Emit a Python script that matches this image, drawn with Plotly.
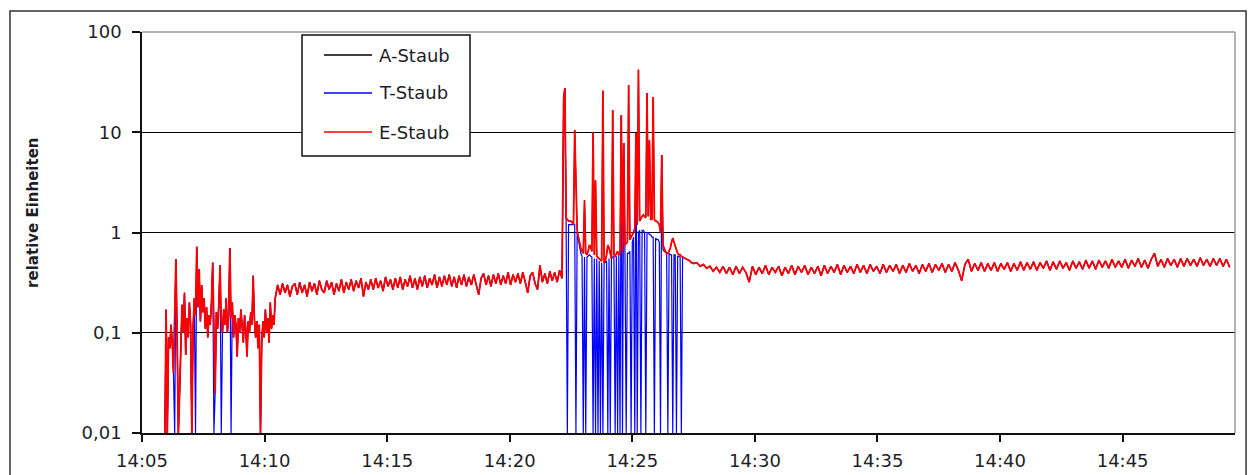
import pandas as pd
import plotly.graph_objects as go

DAY = "2000-01-01 "

# --- measured values (relative units) -------------------------------------
# start 14:05:56, one reading every 3 s
early_start, early_step = "14:05:56", 3
e_early = [0.01, 0.17, 0.01, 0.09, 0.07, 0.12, 0.08, 0.04, 0.15, 0.54,
           0.09, 0.01, 0.025, 0.08, 0.19, 0.1, 0.25, 0.06, 0.14, 0.09,
           0.2, 0.12, 0.01, 0.11, 0.22, 0.15, 0.72, 0.18, 0.43, 0.13,
           0.3, 0.16, 0.22, 0.11, 0.18, 0.09, 0.15, 0.12, 0.2, 0.5,
           0.1, 0.025, 0.16, 0.11, 0.19, 0.47, 0.13, 0.1, 0.17, 0.12,
           0.22, 0.1, 0.15, 0.7, 0.14, 0.2, 0.09, 0.15, 0.12, 0.058,
           0.14, 0.1, 0.17, 0.12, 0.08, 0.15, 0.11, 0.058, 0.13, 0.1,
           0.16, 0.12, 0.37, 0.14, 0.09, 0.13, 0.07, 0.12, 0.01, 0.08,
           0.13, 0.09, 0.17, 0.1, 0.14, 0.08, 0.2, 0.11, 0.15, 0.12]
t_early = [0.01, 0.17, 0.01, 0.09, 0.07, 0.12, 0.08, 0.04, 0.01, 0.54,
           0.09, 0.01, 0.025, 0.08, 0.19, 0.1, 0.25, 0.06, 0.14, 0.09,
           0.2, 0.12, 0.01, 0.11, 0.22, 0.01, 0.72, 0.18, 0.43, 0.13,
           0.3, 0.16, 0.22, 0.11, 0.18, 0.09, 0.15, 0.12, 0.2, 0.5,
           0.01, 0.025, 0.16, 0.11, 0.19, 0.47, 0.01, 0.1, 0.17, 0.12,
           0.22, 0.1, 0.15, 0.7, 0.01, 0.2, 0.09, 0.15, 0.12, 0.058,
           0.14, 0.1, 0.17, 0.12, 0.08, 0.15, 0.11, 0.058, 0.13, 0.1,
           0.16, 0.12, 0.37, 0.14, 0.09, 0.13, 0.07, 0.12, 0.01, 0.08,
           0.13, 0.09, 0.17, 0.1, 0.14, 0.08, 0.2, 0.11, 0.15, 0.12]

# start 14:10:26, one reading every 6 s
mid_start, mid_step = "14:10:26", 6
e_mid = [0.22, 0.3, 0.24, 0.31, 0.25, 0.3, 0.23, 0.29, 0.31, 0.24,
         0.32, 0.25, 0.3, 0.23, 0.32, 0.26, 0.31, 0.24, 0.33, 0.27,
         0.25, 0.33, 0.27, 0.32, 0.24, 0.31, 0.26, 0.34, 0.25, 0.32,
         0.27, 0.34, 0.26, 0.33, 0.28, 0.35, 0.23, 0.32, 0.27, 0.34,
         0.27, 0.35, 0.28, 0.33, 0.26, 0.36, 0.29, 0.34, 0.27, 0.35,
         0.28, 0.36, 0.27, 0.34, 0.29, 0.37, 0.28, 0.35, 0.27, 0.36,
         0.29, 0.37, 0.28, 0.35, 0.3, 0.38, 0.28, 0.36, 0.29, 0.37,
         0.3, 0.38, 0.29, 0.36, 0.28, 0.37, 0.3, 0.38, 0.29, 0.36,
         0.3, 0.38, 0.29, 0.24, 0.35, 0.39, 0.3, 0.37, 0.29, 0.38,
         0.31, 0.39, 0.3, 0.37, 0.31, 0.4, 0.3, 0.38, 0.32, 0.39,
         0.31, 0.4, 0.32, 0.25, 0.37, 0.4, 0.31, 0.27, 0.47, 0.32,
         0.39, 0.31, 0.41, 0.33, 0.4, 0.32, 0.42, 0.35]

# start 14:22:12, one reading every 3 s
burst_start, burst_step = "14:22:12", 3
e_burst = [22, 27.6, 1.4, 1.35, 1.3, 1.3, 1.3, 1.25, 1.2, 10.5,
           4.0, 1.05, 0.9, 0.75, 0.7, 0.65, 0.62, 2.1, 0.62, 0.6,
           0.65, 0.75, 0.72, 0.65, 10, 0.6, 3.3, 0.58, 0.56, 0.55,
           0.53, 0.52, 26, 0.5, 0.52, 0.6, 0.75, 0.7, 0.6, 0.55,
           16.6, 0.6, 0.58, 0.62, 0.65, 0.6, 0.62, 14.8, 0.65, 7.8,
           0.75, 0.78, 0.8, 29.5, 0.85, 0.9, 0.95, 1.0, 1.1, 9.8,
           1.2, 42, 1.3, 1.4, 1.45, 1.5, 1.45, 1.4, 24.6, 1.45,
           8.3, 1.35, 1.35, 22.4, 1.35, 1.3, 1.3, 1.25, 1.2, 1.0,
           5.9, 0.75, 0.68, 0.65, 0.62, 0.62, 0.65, 0.7, 0.8, 0.88,
           0.8, 0.72, 0.65, 0.62, 0.6, 0.6, 0.58, 0.57, 0.56, 0.55,
           0.54, 0.53, 0.52, 0.52, 0.5, 0.5, 0.49]
t_burst = [22, 27.6, 1.19, 0.01, 1.2, 1.2, 1.2, 1.2, 1.2, 1.2,
           0.01, 1.0, 0.85, 0.7, 0.62, 0.58, 0.01, 0.57, 0.01, 0.57,
           0.58, 0.6, 0.58, 0.57, 0.01, 0.55, 0.01, 0.55, 0.01, 0.52,
           0.01, 0.5, 0.01, 0.5, 0.5, 0.52, 0.01, 0.55, 0.01, 0.55,
           0.57, 0.57, 0.01, 0.58, 0.01, 0.6, 0.01, 14.8, 0.01, 7.8,
           0.6, 0.01, 0.62, 0.62, 0.65, 0.01, 0.8, 0.9, 0.01, 9.8,
           0.01, 1.0, 1.05, 0.01, 1.05, 1.05, 1.0, 0.01, 1.0, 1.0,
           0.95, 0.95, 0.9, 0.9, 0.01, 0.88, 0.85, 0.85, 0.8, 0.01,
           5.9, 0.68, 0.65, 0.63, 0.62, 0.01, 0.62, 0.6, 0.6, 0.01,
           0.6, 0.6, 0.01, 0.58, 0.57, 0.57, 0.01, 0.56, 0.56, 0.55,
           0.54, 0.53, 0.52, 0.52, 0.5, 0.5, 0.49]

# start 14:27:38, one reading every 8 s
late_start, late_step = "14:27:38", 8
e_late = [0.5, 0.46, 0.48, 0.44, 0.46, 0.41, 0.45, 0.4, 0.46, 0.39,
          0.45, 0.38, 0.46, 0.39, 0.45, 0.4, 0.32, 0.46, 0.38, 0.45,
          0.39, 0.47, 0.38, 0.45, 0.4, 0.46, 0.37, 0.45, 0.39, 0.47,
          0.38, 0.46, 0.4, 0.47, 0.38, 0.45, 0.39, 0.46, 0.37, 0.47,
          0.39, 0.46, 0.4, 0.48, 0.38, 0.47, 0.4, 0.46, 0.39, 0.48,
          0.4, 0.47, 0.39, 0.48, 0.41, 0.46, 0.39, 0.48, 0.4, 0.47,
          0.41, 0.48, 0.39, 0.47, 0.4, 0.49, 0.41, 0.47, 0.39, 0.48,
          0.41, 0.49, 0.4, 0.48, 0.42, 0.49, 0.4, 0.48, 0.41, 0.5,
          0.42, 0.33, 0.48, 0.54, 0.41, 0.49, 0.42, 0.5, 0.41, 0.49,
          0.42, 0.5, 0.41, 0.49, 0.43, 0.5, 0.41, 0.49, 0.42, 0.51,
          0.42, 0.5, 0.43, 0.51, 0.42, 0.5, 0.44, 0.52, 0.42, 0.51,
          0.43, 0.52, 0.44, 0.5, 0.42, 0.52, 0.44, 0.51, 0.43, 0.53,
          0.44, 0.52, 0.43, 0.53, 0.45, 0.52, 0.44, 0.54, 0.45, 0.52,
          0.45, 0.54, 0.44, 0.53, 0.46, 0.55, 0.45, 0.53, 0.44, 0.54,
          0.62, 0.46, 0.54, 0.45, 0.55, 0.47, 0.54, 0.45, 0.55, 0.46,
          0.55, 0.47, 0.54, 0.46, 0.56, 0.47, 0.54, 0.46, 0.55, 0.47,
          0.55, 0.46, 0.54, 0.45]

# --- axes -----------------------------------------------------------------
x_range = ["14:05:00", "14:49:35"]
x_ticks = ["14:05", "14:10", "14:15", "14:20", "14:25", "14:30", "14:35", "14:40", "14:45"]
y_ticks = [0.01, 0.1, 1, 10, 100]
y_ticktext = ["0,01", "0,1", "1", "10", "100"]
y_title = "relative Einheiten"
series_names = ["A-Staub", "T-Staub", "E-Staub"]
series_colors = ["#000000", "#0000ff", "#ff0000"]


def times(start, step, n):
    return list(pd.date_range(DAY + start, periods=n, freq=f"{step}s"))


x_all = (times(early_start, early_step, len(e_early))
         + times(mid_start, mid_step, len(e_mid))
         + times(burst_start, burst_step, len(e_burst))
         + times(late_start, late_step, len(e_late)))
e_all = e_early + e_mid + e_burst + e_late
t_all = t_early + e_mid + t_burst + e_late
a_all = e_all

FONT = "DejaVu Sans, Verdana, sans-serif"
TXT = "#1e1e28"

fig = go.Figure()
for name, color, vals, w in zip(series_names, series_colors, [a_all, t_all, e_all], [1.0, 1.2, 1.8]):
    fig.add_trace(go.Scatter(x=x_all, y=vals, mode="lines", name=name,
                             line=dict(color=color, width=w), showlegend=False))

fig.update_layout(
    width=1252, height=475,
    margin=dict(l=142, r=17, t=32, b=42, autoexpand=False),
    paper_bgcolor="white", plot_bgcolor="white",
    font=dict(family=FONT, size=18, color=TXT),
)
fig.update_xaxes(
    type="date", range=[DAY + x_range[0], DAY + x_range[1]],
    tickvals=[DAY + t for t in x_ticks], ticktext=x_ticks,
    showgrid=False, zeroline=False, automargin=False,
    showline=True, linecolor="#111", linewidth=1.5,
    ticks="outside", ticklen=7, tickwidth=1.5, tickcolor="#111",
    ticklabelstandoff=4,
    tickfont=dict(family=FONT, size=18, color=TXT),
)
fig.update_yaxes(
    type="log", range=[-2, 2],
    tickvals=y_ticks, ticktext=y_ticktext,
    showgrid=True, gridcolor="#000", gridwidth=1.2, zeroline=False, automargin=False,
    showline=True, linecolor="#111", linewidth=1.5,
    ticks="outside", ticklen=8, tickwidth=1.5, tickcolor="#111",
    ticklabelstandoff=7,
    tickfont=dict(family=FONT, size=18, color=TXT),
)

shapes = [
    # plot area border, top and right
    dict(type="line", xref="paper", yref="paper", x0=0, x1=1, y0=1, y1=1,
         line=dict(color="#999", width=1.5), layer="above"),
    dict(type="line", xref="paper", yref="paper", x0=1, x1=1, y0=0, y1=1,
         line=dict(color="#999", width=1.5), layer="above"),
    # outer chart frame
    dict(type="rect", xref="paper", yref="paper", x0=-0.1208, x1=1.0101, y0=-0.2, y1=1.0524,
         line=dict(color="#333", width=1.5), layer="above"),
    # legend box
    dict(type="rect", xref="paper", yref="paper", x0=0.1464, x1=0.3001, y0=0.6908, y1=0.9925,
         fillcolor="white", line=dict(color="#111", width=1.5), layer="above"),
]
annotations = [
    dict(text="<b>" + y_title + "</b>", xref="paper", yref="paper", x=-0.0997, y=0.549,
         textangle=-90, showarrow=False, xanchor="center", yanchor="middle",
         font=dict(family=FONT, size=15, color=TXT)),
]
row_y = [0.9426, 0.8479, 0.7506]
for name, color, ry in zip(series_names, series_colors, row_y):
    shapes.append(dict(type="line", xref="paper", yref="paper", x0=0.1665, x1=0.2104, y0=ry, y1=ry,
                       line=dict(color=color, width=1.5), layer="above"))
    annotations.append(dict(text=name, xref="paper", yref="paper", x=0.215, y=ry,
                            xanchor="left", yanchor="middle", showarrow=False,
                            font=dict(family=FONT, size=18, color=TXT)))
fig.update_layout(shapes=shapes, annotations=annotations)

fig.write_html("out.html")
